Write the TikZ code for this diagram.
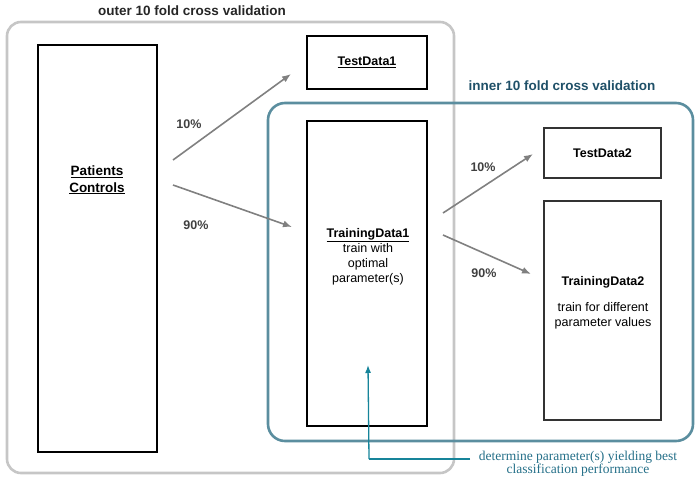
\documentclass[tikz,border=0pt]{standalone}
\usepackage{fontspec}
\setmainfont{Liberation Sans}
\newfontfamily\notefont{Liberation Serif}
\usetikzlibrary{arrows.meta}
\definecolor{outergray}{HTML}{C6C6C6}
\definecolor{innerteal}{HTML}{5B8E9F}
\definecolor{titleteal}{HTML}{1F5068}
\definecolor{noteteal}{HTML}{246F88}
\definecolor{arrowteal}{HTML}{16849A}
\begin{document}
\begin{tikzpicture}[x=1pt,y=-1pt,
	every node/.style={font=\fontsize{12.5}{15}\selectfont, align=center, inner sep=0pt},
	bigbox/.style={draw=black, line width=1.8pt},
	smallbox/.style={draw=black!80, line width=1.2pt},
	split/.style={draw=black!50, line width=1.6pt, -{Latex[length=9pt,width=7pt]}},
	pct/.style={font=\fontsize{12.5}{15}\selectfont\bfseries, text=black!75},
	cvtitle/.style={font=\fontsize{13.5}{16}\selectfont\bfseries}]
	\useasboundingbox (0,0) rectangle (700,482);
	% outer cross validation
	\draw[outergray, line width=2.6pt, rounded corners=14pt] (7,22) rectangle (454,473);
	\node[cvtitle, text=black!85] (outertitle) at (192,11) {outer 10 fold cross validation};
	% inner cross validation
	\draw[innerteal, line width=2.6pt, rounded corners=17pt] (268,103) rectangle (693,441);
	\node[cvtitle, text=titleteal] (innertitle) at (562,86) {inner 10 fold cross validation};
	% Data boxes
	\node[bigbox, minimum width=119pt, minimum height=407pt] (pat) at (97.5,248.5) {};
	\node[bigbox, minimum width=120pt, minimum height=53pt] (test1) at (367,62.5) {};
	\node[bigbox, minimum width=120pt, minimum height=305pt] (train1) at (367,273.5) {};
	\node[smallbox, minimum width=117pt, minimum height=50pt] (test2) at (602.5,153) {};
	\node[smallbox, minimum width=117pt, minimum height=219pt] (train2) at (602.5,310.5) {};
	% Box texts
	\node[font=\fontsize{13.5}{16.5}\selectfont\bfseries] (pattext) at (97,180) {\underline{Patients}\\\underline{Controls}};
	\node[font=\fontsize{12.5}{15}\selectfont\bfseries] (test1text) at (367,62) {\underline{TestData1}};
	\node (train1text) at (368,256.5) {{\bfseries\underline{TrainingData1}}\\train with\\optimal\\parameter(s)};
	\node[font=\fontsize{12.5}{15}\selectfont\bfseries] (test2text) at (602.5,153) {TestData2};
	\node[font=\fontsize{12.5}{15}\selectfont\bfseries] (train2text) at (603,282) {TrainingData2};
	\node (train2note) at (603,315.5) {train for different\\parameter values};
	% Splits
	\coordinate (s1a) at (173,160); \coordinate (s1b) at (291,74);
	\coordinate (s2a) at (173,185); \coordinate (s2b) at (292,227);
	\coordinate (s3a) at (443,213); \coordinate (s3b) at (533,154);
	\coordinate (s4a) at (443,235); \coordinate (s4b) at (531,274);
	\draw[split] (s1a) -- (s1b);
	\draw[split] (s2a) -- (s2b);
	\draw[split] (s3a) -- (s3b);
	\draw[split] (s4a) -- (s4b);
	\node[pct] (p1) at (189,124) {10\%};
	\node[pct] (p2) at (196,225) {90\%};
	\node[pct] (p3) at (483,167) {10\%};
	\node[pct] (p4) at (484,273) {90\%};
	% Parameter feedback
	\node[font=\fontsize{13.5}{13.5}\selectfont\notefont, text=noteteal] (note) at (578,463.5) {determine parameter(s) yielding best\\classification performance};
	\coordinate (corner) at (369,459); \coordinate (lineend) at (470,459); \coordinate (tip) at (368,365);
	\draw[arrowteal, line width=1.3pt] (lineend) -- (corner);
	\draw[arrowteal, line width=1.3pt, -{Latex[length=8pt,width=6pt]}] (corner) -- (tip);
\end{tikzpicture}
\end{document}
